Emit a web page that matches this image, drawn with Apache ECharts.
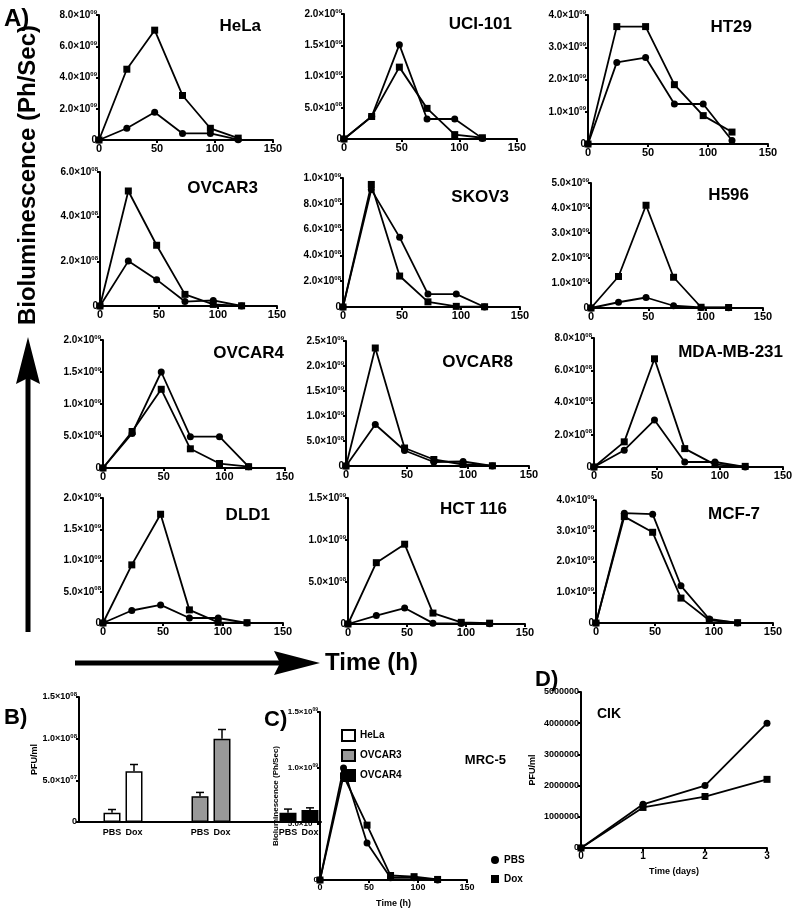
<!DOCTYPE html>
<html><head><meta charset="utf-8">
<script src="https://cdn.jsdelivr.net/npm/echarts@6/dist/echarts.min.js"></script>
<style>html,body{margin:0;padding:0;background:#fff}#c{width:800px;height:915px}</style>
</head><body><div id="c"></div>
<script>
// ---------------- DATA ----------------
const timeH = [0, 24, 48, 72, 96, 120];
const xTicksH = [0, 150, 50]; // min, max, step of time axis (h)

const helaPBS   = [0, 0.75e9, 1.78e9, 0.42e9, 0.42e9, 0.02e9];
const helaDox   = [0, 4.53e9, 7.03e9, 2.85e9, 0.75e9, 0.12e9];
const uci101PBS = [0, 0.36e9, 1.51e9, 0.32e9, 0.32e9, 0.01e9];
const uci101Dox = [0, 0.36e9, 1.15e9, 0.49e9, 0.07e9, 0.02e9];
const ht29PBS   = [0, 2.53e9, 2.68e9, 1.24e9, 1.24e9, 0.11e9];
const ht29Dox   = [0, 3.64e9, 3.64e9, 1.84e9, 0.88e9, 0.37e9];
const ovcar3PBS = [0, 2.01e8, 1.18e8, 0.20e8, 0.25e8, 0];
const ovcar3Dox = [0, 5.15e8, 2.72e8, 0.52e8, 0.07e8, 0.01e8];
const skov3PBS  = [0, 0.91e9, 0.54e9, 0.10e9, 0.10e9, 0];
const skov3Dox  = [0, 0.95e9, 0.24e9, 0.04e9, 0.005e9, 0.002e9];
const h596PBS   = [0, 0.23e9, 0.42e9, 0.09e9, 0.02e9, 0.01e9];
const h596Dox   = [0, 1.26e9, 4.11e9, 1.23e9, 0.03e9, 0.02e9];
const ovcar4PBS = [0, 0.54e9, 1.50e9, 0.49e9, 0.49e9, 0.02e9];
const ovcar4Dox = [0, 0.57e9, 1.23e9, 0.30e9, 0.07e9, 0.02e9];
const ovcar8PBS = [0, 0.83e9, 0.31e9, 0.08e9, 0.09e9, 0];
const ovcar8Dox = [0, 2.36e9, 0.36e9, 0.13e9, 0.03e9, 0.005e9];
const mdaPBS    = [0, 1.04e8, 2.91e8, 0.31e8, 0.31e8, 0];
const mdaDox    = [0, 1.56e8, 6.71e8, 1.14e8, 0.15e8, 0.04e8];
const dld1PBS   = [0, 0.20e9, 0.29e9, 0.08e9, 0.08e9, 0];
const dld1Dox   = [0, 0.93e9, 1.74e9, 0.21e9, 0.01e9, 0.005e9];
const hct116PBS = [0, 0.10e9, 0.19e9, 0.01e9, 0.005e9, 0.003e9];
const hct116Dox = [0, 0.73e9, 0.95e9, 0.13e9, 0.02e9, 0.01e9];
const mcf7PBS   = [0, 3.57e9, 3.54e9, 1.21e9, 0.13e9, 0];
const mcf7Dox   = [0, 3.46e9, 2.95e9, 0.81e9, 0.09e9, 0.01e9];

const panelTitles = ['HeLa','UCI-101','HT29','OVCAR3','SKOV3','H596','OVCAR4','OVCAR8','MDA-MB-231','DLD1','HCT 116','MCF-7'];
const panelPBS = [helaPBS, uci101PBS, ht29PBS, ovcar3PBS, skov3PBS, h596PBS, ovcar4PBS, ovcar8PBS, mdaPBS, dld1PBS, hct116PBS, mcf7PBS];
const panelDox = [helaDox, uci101Dox, ht29Dox, ovcar3Dox, skov3Dox, h596Dox, ovcar4Dox, ovcar8Dox, mdaDox, dld1Dox, hct116Dox, mcf7Dox];
const panelYMax  = [8e9, 2e9, 4e9, 6e8, 1e9, 5e9, 2e9, 2.5e9, 8e8, 2e9, 1.5e9, 4e9];
const panelYStep = [2e9, 5e8, 1e9, 2e8, 2e8, 1e9, 5e8, 5e8, 2e8, 5e8, 5e8, 1e9];

// Panel B
const barCategories = ['', 'PBS', 'Dox', '', '', 'PBS', 'Dox', '', '', 'PBS', 'Dox'];
const barCellLines = ['HeLa', 'OVCAR3', 'OVCAR4'];
const barPBS    = [1.1e7, 3.1e7, 1.1e7];
const barDox    = [6.1e7, 1.0e8, 1.45e7];
const barPBSErr = [0.4e7, 0.45e7, 0.45e7];
const barDoxErr = [0.8e7, 1.1e7, 0.25e7];
const barYTicks = [0, 1.5e8, 5e7];

// Panel C (MRC-5)
const mrc5PBS = [0, 1.0e9, 0.33e9, 0.02e9, 0.02e9, 0];
const mrc5Dox = [0, 0.93e9, 0.49e9, 0.04e9, 0.03e9, 0.005e9];
const mrc5YTicks = [0, 1.5e9, 5e8];

// Panel D (CIK)
const cikDays = [0, 1, 2, 3];
const cikPBS = [0, 1.4e6, 2.0e6, 4.0e6];
const cikDox = [0, 1.3e6, 1.65e6, 2.2e6];
const cikYTicks = [0, 5e6, 1e6];

// ---------------- LAYOUT ----------------
const FONT = '"Liberation Sans", Arial, Helvetica, sans-serif';
const panelBoxes = [
  [99,15,174,125],[344,14,173,125],[588,15,180,129],
  [100,172,177,134],[343,178,177,129],[591,183,172,125],
  [103,340,182,128],[346,341,183,125],[594,338,189,129],
  [103,498,180,125],[348,498,177,126],[596,500,177,123]
];
const titlePos = [
  [261,26],[512,24],[752,27],
  [258,188],[509,197],[749,195],
  [284,353],[513,362],[783,352],
  [270,515],[507,509],[760,514]
];

function sci(v) {
  if (v === 0) return '0';
  const e = Math.floor(Math.log10(v) + 1e-9);
  const m = v / Math.pow(10, e);
  return '{m|' + m.toFixed(1) + '×10}{e|' + String(e).padStart(2, '0') + '}';
}
function richSci(fs) {
  return {
    m: {fontSize: fs, fontWeight: 'bold', fontFamily: FONT, color: '#000', lineHeight: fs + 2},
    e: {fontSize: Math.round(fs * 0.62), fontWeight: 'bold', fontFamily: FONT, color: '#000', verticalAlign: 'top', lineHeight: Math.round(fs * 0.62)}
  };
}
const axLine = {show: true, onZero: false, lineStyle: {color: '#000', width: 2}};
const axTick = {show: true, length: 3, lineStyle: {color: '#000', width: 2}};

function xAxisVal(gi, min, max, step, fs) {
  return {gridIndex: gi, type: 'value', min, max, interval: step,
    axisLine: axLine, axisTick: axTick, splitLine: {show: false},
    axisLabel: {color: '#000', fontWeight: 'bold', fontSize: fs, fontFamily: FONT, margin: 3}};
}
function yAxisVal(gi, min, max, step, fs, formatter) {
  return {gridIndex: gi, type: 'value', min, max, interval: step,
    axisLine: axLine, axisTick: axTick, splitLine: {show: false},
    axisLabel: {color: '#000', fontWeight: 'bold', fontSize: fs, fontFamily: FONT, margin: 2,
      formatter: formatter, rich: richSci(fs)}};
}
function lineSer(name, xs, ys, gi, symbol) {
  return {type: 'line', name, xAxisIndex: gi, yAxisIndex: gi,
    data: xs.map((t, i) => [t, ys[i]]), symbol, symbolSize: 7,
    itemStyle: {color: '#000'}, lineStyle: {color: '#000', width: 1.8}, z: 3};
}

const grids = [], xAxes = [], yAxes = [], series = [], graphics = [];

panelTitles.forEach((t, i) => {
  const b = panelBoxes[i];
  grids.push({left: b[0], top: b[1], width: b[2], height: b[3]});
  xAxes.push(xAxisVal(i, xTicksH[0], xTicksH[1], xTicksH[2], 11));
  yAxes.push(yAxisVal(i, 0, panelYMax[i], panelYStep[i], 10, sci));
  series.push(lineSer('PBS', timeH, panelPBS[i], i, 'circle'));
  series.push(lineSer('Dox', timeH, panelDox[i], i, 'rect'));
  graphics.push({type: 'text', x: titlePos[i][0], y: titlePos[i][1],
    style: {text: t, fill: '#000', font: 'bold 17px ' + FONT, align: 'right', verticalAlign: 'middle', textAlign: 'right', textVerticalAlign: 'middle'}});
});

// Panel B
const gB = grids.length;
grids.push({left: 79, top: 697, width: 242, height: 125});
xAxes.push({gridIndex: gB, type: 'category', data: barCategories,
  axisLine: {show: true, lineStyle: {color: '#000', width: 2}}, axisTick: {show: false},
  axisLabel: {interval: 0, color: '#000', fontWeight: 'bold', fontSize: 9, fontFamily: FONT, margin: 6}});
yAxes.push(Object.assign(yAxisVal(gB, barYTicks[0], barYTicks[1], barYTicks[2], 9, sci),
  {name: 'PFU/ml', nameLocation: 'middle', nameGap: 38, nameTextStyle: {fontWeight: 'bold', fontSize: 9, fontFamily: FONT, color: '#000'}}));
const barFill = ['#ffffff', '#999999', '#000000'];
const groupStart = [1, 5, 9];
barCellLines.forEach((name, i) => {
  const d = barCategories.map(() => null);
  d[groupStart[i]] = barPBS[i];
  d[groupStart[i] + 1] = barDox[i];
  series.push({type: 'bar', name, xAxisIndex: gB, yAxisIndex: gB, data: d, barWidth: 17, barGap: '-100%',
    itemStyle: {color: barFill[i], borderColor: '#000', borderWidth: 1.5}, z: 2});
});
const errData = [];
barCellLines.forEach((n, i) => {
  errData.push([groupStart[i], barPBS[i], barPBSErr[i]]);
  errData.push([groupStart[i] + 1, barDox[i], barDoxErr[i]]);
});
series.push({type: 'custom', name: 'err', xAxisIndex: gB, yAxisIndex: gB, data: errData, z: 4,
  encode: {x: 0, y: 1},
  renderItem: function (params, api) {
    const x = api.value(0), v = api.value(1), e = api.value(2);
    const p0 = api.coord([x, v]), p1 = api.coord([x, v + e]);
    return {type: 'group', children: [
      {type: 'line', shape: {x1: p0[0], y1: p0[1], x2: p1[0], y2: p1[1]}, style: {stroke: '#000', lineWidth: 1.5}},
      {type: 'line', shape: {x1: p1[0] - 4, y1: p1[1], x2: p1[0] + 4, y2: p1[1]}, style: {stroke: '#000', lineWidth: 1.5}}
    ]};
  }});

// Panel C
const gC = grids.length;
grids.push({left: 320, top: 712, width: 147, height: 168});
xAxes.push(Object.assign(xAxisVal(gC, xTicksH[0], xTicksH[1], xTicksH[2], 9),
  {name: 'Time (h)', nameLocation: 'middle', nameGap: 19, nameTextStyle: {fontWeight: 'bold', fontSize: 9, fontFamily: FONT, color: '#000'}}));
yAxes.push(Object.assign(yAxisVal(gC, mrc5YTicks[0], mrc5YTicks[1], mrc5YTicks[2], 8, sci),
  {name: 'Bioluminescence (Ph/Sec)', nameLocation: 'middle', nameGap: 40, nameTextStyle: {fontWeight: 'bold', fontSize: 8, fontFamily: FONT, color: '#000'}}));
series.push(lineSer('PBS', timeH, mrc5PBS, gC, 'circle'));
series.push(lineSer('Dox', timeH, mrc5Dox, gC, 'rect'));

// Panel D
const gD = grids.length;
grids.push({left: 581, top: 692, width: 186, height: 156});
xAxes.push(Object.assign(xAxisVal(gD, 0, 3, 1, 10),
  {name: 'Time (days)', nameLocation: 'middle', nameGap: 19, nameTextStyle: {fontWeight: 'bold', fontSize: 9, fontFamily: FONT, color: '#000'}}));
yAxes.push(Object.assign(yAxisVal(gD, cikYTicks[0], cikYTicks[1], cikYTicks[2], 9, v => String(v)),
  {name: 'PFU/ml', nameLocation: 'middle', nameGap: 44, nameTextStyle: {fontWeight: 'bold', fontSize: 9, fontFamily: FONT, color: '#000'}}));
series.push(lineSer('PBS', cikDays, cikPBS, gD, 'circle'));
series.push(lineSer('Dox', cikDays, cikDox, gD, 'rect'));

// Texts and arrows
function txt(x, y, text, size, align, rot) {
  const g = {type: 'text', x, y, style: {text, fill: '#000', font: 'bold ' + size + 'px ' + FONT,
    align: align, verticalAlign: 'middle', textAlign: align, textVerticalAlign: 'middle'}};
  if (rot) { g.rotation = rot; }
  return g;
}
graphics.push(txt(4, 19, 'A)', 24, 'left'));
graphics.push(txt(4, 718, 'B)', 22, 'left'));
graphics.push(txt(264, 720, 'C)', 22, 'left'));
graphics.push(txt(535, 680, 'D)', 22, 'left'));
graphics.push(txt(28, 175, 'Bioluminescence (Ph/Sec)', 24, 'center', Math.PI / 2));
graphics.push(txt(325, 663, 'Time (h)', 24, 'left'));
graphics.push(txt(506, 760, 'MRC-5', 13, 'right'));
graphics.push(txt(597, 714, 'CIK', 14, 'left'));
// vertical arrow
graphics.push({type: 'rect', shape: {x: 25.5, y: 378, width: 5, height: 254}, style: {fill: '#000'}});
graphics.push({type: 'polygon', shape: {points: [[16, 384], [28, 337], [40, 384], [28, 378]]}, style: {fill: '#000'}});
// horizontal arrow
graphics.push({type: 'rect', shape: {x: 75, y: 660.5, width: 205, height: 5}, style: {fill: '#000'}});
graphics.push({type: 'polygon', shape: {points: [[274, 651], [320, 663], [274, 675], [280, 663]]}, style: {fill: '#000'}});

const option = {
  animation: false,
  backgroundColor: '#fff',
  textStyle: {fontFamily: FONT},
  grid: grids, xAxis: xAxes, yAxis: yAxes, series: series,
  legend: [
    {data: barCellLines, orient: 'vertical', left: 336, top: 724, itemWidth: 13, itemHeight: 11, itemGap: 7,
      icon: 'rect', selectedMode: false, textStyle: {fontWeight: 'bold', fontSize: 10, color: '#000', fontFamily: FONT}},
    {data: [{name: 'PBS', icon: 'circle'}, {name: 'Dox', icon: 'rect'}], orient: 'vertical', left: 486, top: 850,
      itemWidth: 8, itemHeight: 8, itemGap: 9, selectedMode: false,
      textStyle: {fontWeight: 'bold', fontSize: 10, color: '#000', fontFamily: FONT}}
  ],
  graphic: graphics
};
const chart = echarts.init(document.getElementById('c'), null, {renderer: 'canvas'});
chart.setOption(option);
</script></body></html>
